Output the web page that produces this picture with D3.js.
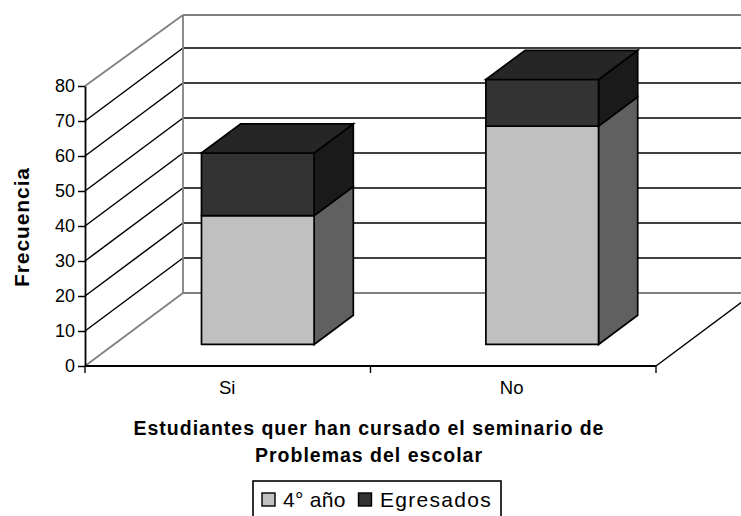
<!DOCTYPE html>
<html>
<head>
<meta charset="utf-8">
<script src="https://cdn.jsdelivr.net/npm/d3@7/dist/d3.min.js"></script>
<style>
html,body{margin:0;padding:0;background:#fff;overflow:hidden}
svg{display:block}
text{font-family:"Liberation Sans",Arial,sans-serif;fill:#000}
</style>
</head>
<body>
<svg id="chart" width="741" height="516"></svg>
<script>
const categories = ["Si", "No"];
const seriesNames = ["4° año", "Egresados"];
const cuartoAnio = [36.8, 62.4];
const egresados = [17.9, 13.3];
const yTicks = [0, 10, 20, 30, 40, 50, 60, 70, 80];
const xTitleLines = ["Estudiantes quer han cursado el seminario de", "Problemas del escolar"];
const yTitle = "Frecuencia";

const W = 741, H = 516;
const plot = {left: 85, right: 656, bottom: 366, top: 86};
const depth = {dx: 98, dy: -73};
const barDepth = {start: 0.295, end: 0.695};
const barShiftX = 29.6;
const ink = "#000", wallInk = "#808080";
const tones = [
  {front: "#c0c0c0", side: "#606060", top: "#9a9a9a"},
  {front: "#333333", side: "#1a1a1a", top: "#262626"}
];

const svg = d3.select("#chart");
const y = d3.scaleLinear().domain([0, 80]).range([plot.bottom, plot.top]);
const x = d3.scaleBand().domain(categories).range([86, 654.8]).paddingInner(0.604).paddingOuter(0.302);
const poly = pts => d3.line()(pts) + "Z";

// Chart walls: floor edges, side-wall gridlines and back-wall gridlines
const bx = plot.left + depth.dx;
const walls = svg.append("g").attr("fill", "none");
yTicks.forEach(t => {
  const yf = y(t), yb = t === 80 ? 15 : yf + depth.dy;
  const edge = t === 0 || t === 80;
  const stroke = edge ? wallInk : ink;
  const width = edge ? 1.8 : 1.5;
  walls.append("path").attr("d", d3.line()([[plot.left, yf], [bx, yb]])).attr("stroke", stroke).attr("stroke-width", width);
  walls.append("path").attr("d", d3.line()([[bx, yb], [W, yb]])).attr("stroke", stroke).attr("stroke-width", width);
});
walls.append("path").attr("d", d3.line()([[bx, 15], [bx, plot.bottom + depth.dy]])).attr("stroke", wallInk).attr("stroke-width", 1.8);
walls.append("path").attr("d", d3.line()([[plot.right, plot.bottom], [plot.right + depth.dx, plot.bottom + depth.dy]])).attr("stroke", ink).attr("stroke-width", 1.5);

// Stacked 3D columns sitting part-way back on the floor
const stack = d3.stack().keys([0, 1]).value((d, k) => d[k])(categories.map((c, i) => [cuartoAnio[i], egresados[i]]));
const bars = svg.append("g").attr("stroke", ink).attr("stroke-width", 1.7).attr("stroke-linejoin", "miter");
categories.forEach((c, i) => {
  const x0 = x(c) + barShiftX;
  const x1 = x0 + x.bandwidth();
  const lift = depth.dy * barDepth.start;
  const ddx = depth.dx * (barDepth.end - barDepth.start);
  const ddy = depth.dy * (barDepth.end - barDepth.start);
  stack.forEach((layer, s) => {
    const [v0, v1] = layer[i];
    const yb = y(v0) + lift, yt = y(v1) + lift;
    const tone = tones[s];
    bars.append("path").attr("fill", tone.side).attr("d", poly([[x1, yb], [x1 + ddx, yb + ddy], [x1 + ddx, yt + ddy], [x1, yt]]));
    bars.append("path").attr("fill", tone.front).attr("d", poly([[x0, yb], [x1, yb], [x1, yt], [x0, yt]]));
    if (s === stack.length - 1) {
      bars.append("path").attr("fill", tone.top).attr("d", poly([[x0, yt], [x1, yt], [x1 + ddx, yt + ddy], [x0 + ddx, yt + ddy]]));
    }
  });
});

// Value axis
const yAxis = svg.append("g").attr("transform", `translate(${plot.left},0)`)
  .call(d3.axisLeft(y).tickValues(yTicks).tickSize(7).tickSizeOuter(0).tickPadding(3));
yAxis.select(".domain").attr("stroke", ink).attr("stroke-width", 1.8);
yAxis.selectAll(".tick line").attr("stroke", ink).attr("stroke-width", 1.5);
yAxis.selectAll(".tick text").style("font-size", "18px").style("font-family", '"Liberation Sans",Arial,sans-serif');

// Category axis: labels from the band scale, rule and ticks on the band boundaries
const xAxis = svg.append("g").attr("transform", `translate(0,${plot.bottom})`)
  .call(d3.axisBottom(x).tickSize(0).tickSizeOuter(0).tickPadding(15));
xAxis.select(".domain").remove();
xAxis.selectAll(".tick text").attr("dx", -1)
  .style("font-size", "18.5px").style("font-family", '"Liberation Sans",Arial,sans-serif');
xAxis.append("line").attr("x1", plot.left).attr("x2", plot.right).attr("stroke", ink).attr("stroke-width", 1.8);
const boundaryStep = (plot.right - plot.left) / categories.length;
d3.range(categories.length + 1).forEach(i => {
  const tx = plot.left + boundaryStep * i;
  xAxis.append("line").attr("x1", tx).attr("x2", tx).attr("y1", 0).attr("y2", 7).attr("stroke", ink).attr("stroke-width", 1.4);
});

// Axis titles
svg.append("text").attr("transform", "translate(29,227) rotate(-90)").attr("text-anchor", "middle")
  .style("font-size", "21px").style("font-weight", "bold").style("letter-spacing", "0.9px").text(yTitle);
svg.selectAll(".xtitle").data(xTitleLines).join("text").attr("class", "xtitle")
  .attr("x", 369).attr("y", (d, i) => 435 + i * 27).attr("text-anchor", "middle")
  .style("font-size", "19.5px").style("font-weight", "bold").style("letter-spacing", "1px").text(d => d);

// Legend, its frame runs off the lower edge of the page
const legend = svg.append("g");
legend.append("rect").attr("x", 253).attr("y", 481).attr("width", 248).attr("height", 50)
  .attr("fill", "#fff").attr("stroke", ink).attr("stroke-width", 1.6);
const legendX = [{sw: 262, tx: 283, track: 0.3}, {sw: 358.5, tx: 380, track: 1.3}];
seriesNames.forEach((n, i) => {
  legend.append("rect").attr("x", legendX[i].sw).attr("y", 493).attr("width", 13).attr("height", 13)
    .attr("fill", tones[i].front).attr("stroke", ink).attr("stroke-width", 1.4);
  legend.append("text").attr("x", legendX[i].tx).attr("y", 507)
    .style("font-size", "21px").style("letter-spacing", legendX[i].track + "px").text(n);
});
</script>
</body>
</html>
